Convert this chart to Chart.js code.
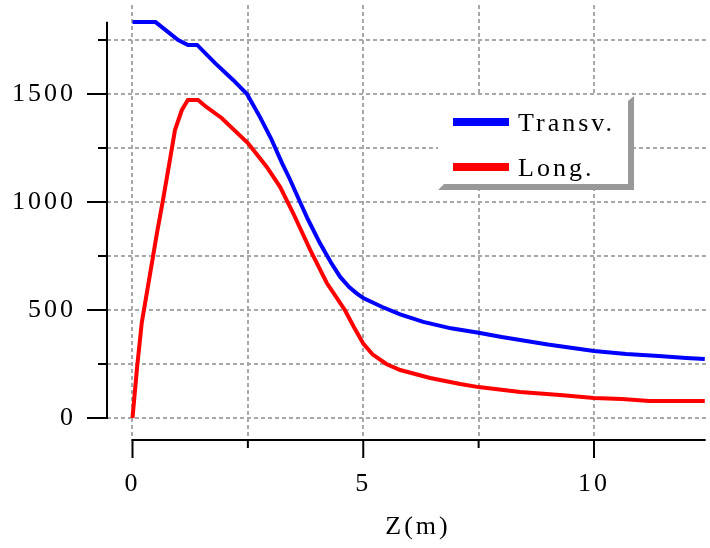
<!DOCTYPE html>
<html>
<head>
<meta charset="utf-8">
<script src="https://cdn.jsdelivr.net/npm/chart.js@4"></script>
<style>
  html, body { margin: 0; padding: 0; background: #fff; }
  #wrap { width: 710px; height: 548px; position: relative; }
</style>
</head>
<body>
<div id="wrap"><canvas id="c"></canvas></div>
<script>
// Transverse and longitudinal profiles along Z (m)
const transvZ   = [0, 0.5, 0.99, 1.2, 1.4, 1.79, 2.18, 2.48, 2.76, 3.0, 3.24, 3.4, 3.63, 3.8, 4.06, 4.3, 4.5, 4.7, 4.85, 5.0, 5.4, 5.8, 6.3, 6.9, 7.5, 8.0, 8.5, 9.0, 9.5, 10.0, 10.7, 11.4, 12.0, 12.4];
const transvVal = [1833, 1833, 1750, 1727, 1727, 1643, 1565, 1500, 1394, 1295, 1180, 1110, 1000, 920, 810, 720, 653, 605, 578, 555, 515, 480, 445, 415, 395, 375, 358, 340, 325, 310, 296, 287, 278, 273];

const longZ   = [0, 0.1, 0.2, 0.31, 0.42, 0.53, 0.66, 0.81, 0.92, 1.07, 1.2, 1.42, 1.6, 1.93, 2.5, 2.91, 3.2, 3.48, 3.85, 4.21, 4.43, 4.6, 4.8, 5.0, 5.2, 5.5, 5.8, 6.45, 7.1, 7.5, 8.4, 9.26, 10.0, 10.6, 11.2, 12.4];
const longVal = [0, 236, 440, 578, 717, 856, 1009, 1194, 1333, 1426, 1472, 1472, 1440, 1389, 1273, 1162, 1069, 949, 778, 625, 555, 500, 420, 345, 295, 250, 222, 185, 157, 143, 120, 106, 93, 88, 79, 79];

const seriesNames  = ['Transv.', 'Long.'];
const seriesColors = ['#0000ff', '#ff0000'];

// Axis ticks: every 250 / 2.5 gets a grid line, labelled ones are major
const yTickValues = [0, 250, 500, 750, 1000, 1250, 1500, 1750];
const yTickLabels = ['0', '', '500', '', '1000', '', '1500', ''];
const xTickValues = [0, 2.5, 5, 7.5, 10];
const xTickLabels = ['0', '', '5', '', '10'];
const xTitle = 'Z(m)';

const FONT = 'Liberation Serif';
const SPACING = '3px';

const toPoints = (xs, ys) => xs.map((x, i) => ({ x, y: ys[i] }));

const axesPlugin = {
  id: 'axesFrame',
  beforeDraw(chart) {
    chart.ctx.letterSpacing = SPACING;
  },
  afterDatasetsDraw(chart) {
    const ctx = chart.ctx;
    const xs = chart.scales.x, ys = chart.scales.y;
    const area = chart.chartArea;
    ctx.save();
    ctx.strokeStyle = '#000';
    ctx.lineWidth = 2;
    ctx.setLineDash([]);
    // y axis line and ticks
    const yAxisX = area.left;
    ctx.beginPath();
    ctx.moveTo(yAxisX, ys.getPixelForValue(0) + 1);
    ctx.lineTo(yAxisX, ys.getPixelForValue(1835));
    ctx.stroke();
    yTickValues.forEach((v, i) => {
      const py = ys.getPixelForValue(v);
      const len = yTickLabels[i] ? 20 : 9;
      ctx.beginPath();
      ctx.moveTo(yAxisX - len, py);
      ctx.lineTo(yAxisX, py);
      ctx.stroke();
    });
    // x axis line and ticks
    const xAxisY = area.bottom;
    ctx.beginPath();
    ctx.moveTo(xs.getPixelForValue(0) - 1, xAxisY);
    ctx.lineTo(xs.getPixelForValue(12.42), xAxisY);
    ctx.stroke();
    xTickValues.forEach((v, i) => {
      const px = xs.getPixelForValue(v);
      const len = xTickLabels[i] ? 18 : 8;
      ctx.beginPath();
      ctx.moveTo(px, xAxisY);
      ctx.lineTo(px, xAxisY + len);
      ctx.stroke();
    });

    ctx.font = '26px "' + FONT + '"';
    ctx.letterSpacing = SPACING;
    ctx.fillStyle = '#000';
    // axis title
    ctx.textAlign = 'center';
    ctx.textBaseline = 'middle';
    ctx.fillText(xTitle, 418, 527);

    // legend panel with bevelled shadow
    const bx = 438, by = 96, bw = 190, bh = 88;
    ctx.fillStyle = '#ffffff';
    ctx.fillRect(bx, by, bw, bh);
    ctx.fillStyle = '#999999';
    ctx.beginPath();
    ctx.moveTo(bx + bw, by + 5);
    ctx.lineTo(bx + bw + 6, by);
    ctx.lineTo(bx + bw + 6, by + bh + 6);
    ctx.lineTo(bx, by + bh + 6);
    ctx.lineTo(bx + 6, by + bh);
    ctx.lineTo(bx + bw, by + bh);
    ctx.closePath();
    ctx.fill();
    ctx.textAlign = 'left';
    ctx.textBaseline = 'alphabetic';
    chart.data.datasets.forEach((ds, i) => {
      const ly = 122 + i * 45;
      ctx.fillStyle = ds.borderColor;
      ctx.fillRect(453, ly - 4, 56, 8);
      ctx.fillStyle = '#000';
      ctx.fillText(ds.label, 518, ly + 9);
    });
    ctx.restore();
  }
};

new Chart(document.getElementById('c'), {
  type: 'line',
  data: {
    datasets: [
      { label: seriesNames[0], data: toPoints(transvZ, transvVal), borderColor: seriesColors[0], borderWidth: 4, pointRadius: 0, tension: 0, fill: false },
      { label: seriesNames[1], data: toPoints(longZ, longVal), borderColor: seriesColors[1], borderWidth: 4, pointRadius: 0, tension: 0, fill: false }
    ]
  },
  options: {
    responsive: true,
    maintainAspectRatio: false,
    animation: false,
    events: [],
    layout: { padding: { top: 5, right: 2, left: 0, bottom: 0 } },
    plugins: { legend: { display: false }, tooltip: { enabled: false } },
    scales: {
      x: {
        type: 'linear',
        min: -0.5525,
        max: 12.47,
        afterFit: s => { s.height = 108; s.paddingLeft = 0; s.paddingRight = 0; },
        afterBuildTicks: s => { s.ticks = xTickValues.map(v => ({ value: v })); },
        grid: { color: '#a8a8a8', lineWidth: 2, drawTicks: false },
        border: { display: false, dash: [4, 3] },
        ticks: {
          padding: 29,
          color: '#000',
          font: { family: FONT, size: 26 },
          maxRotation: 0,
          autoSkip: false,
          callback: v => { const i = xTickValues.indexOf(v); return i >= 0 ? xTickLabels[i] : ''; }
        }
      },
      y: {
        type: 'linear',
        min: -101.9,
        max: 1912,
        afterFit: s => { s.width = 107; s.paddingTop = 0; s.paddingBottom = 0; },
        afterBuildTicks: s => { s.ticks = yTickValues.map(v => ({ value: v })); },
        grid: { color: '#a8a8a8', lineWidth: 2, drawTicks: false },
        border: { display: false, dash: [4, 3] },
        ticks: {
          padding: 31,
          color: '#000',
          font: { family: FONT, size: 26 },
          autoSkip: false,
          callback: v => { const i = yTickValues.indexOf(v); return i >= 0 ? yTickLabels[i] : ''; }
        }
      }
    }
  },
  plugins: [axesPlugin]
});
</script>
</body>
</html>
